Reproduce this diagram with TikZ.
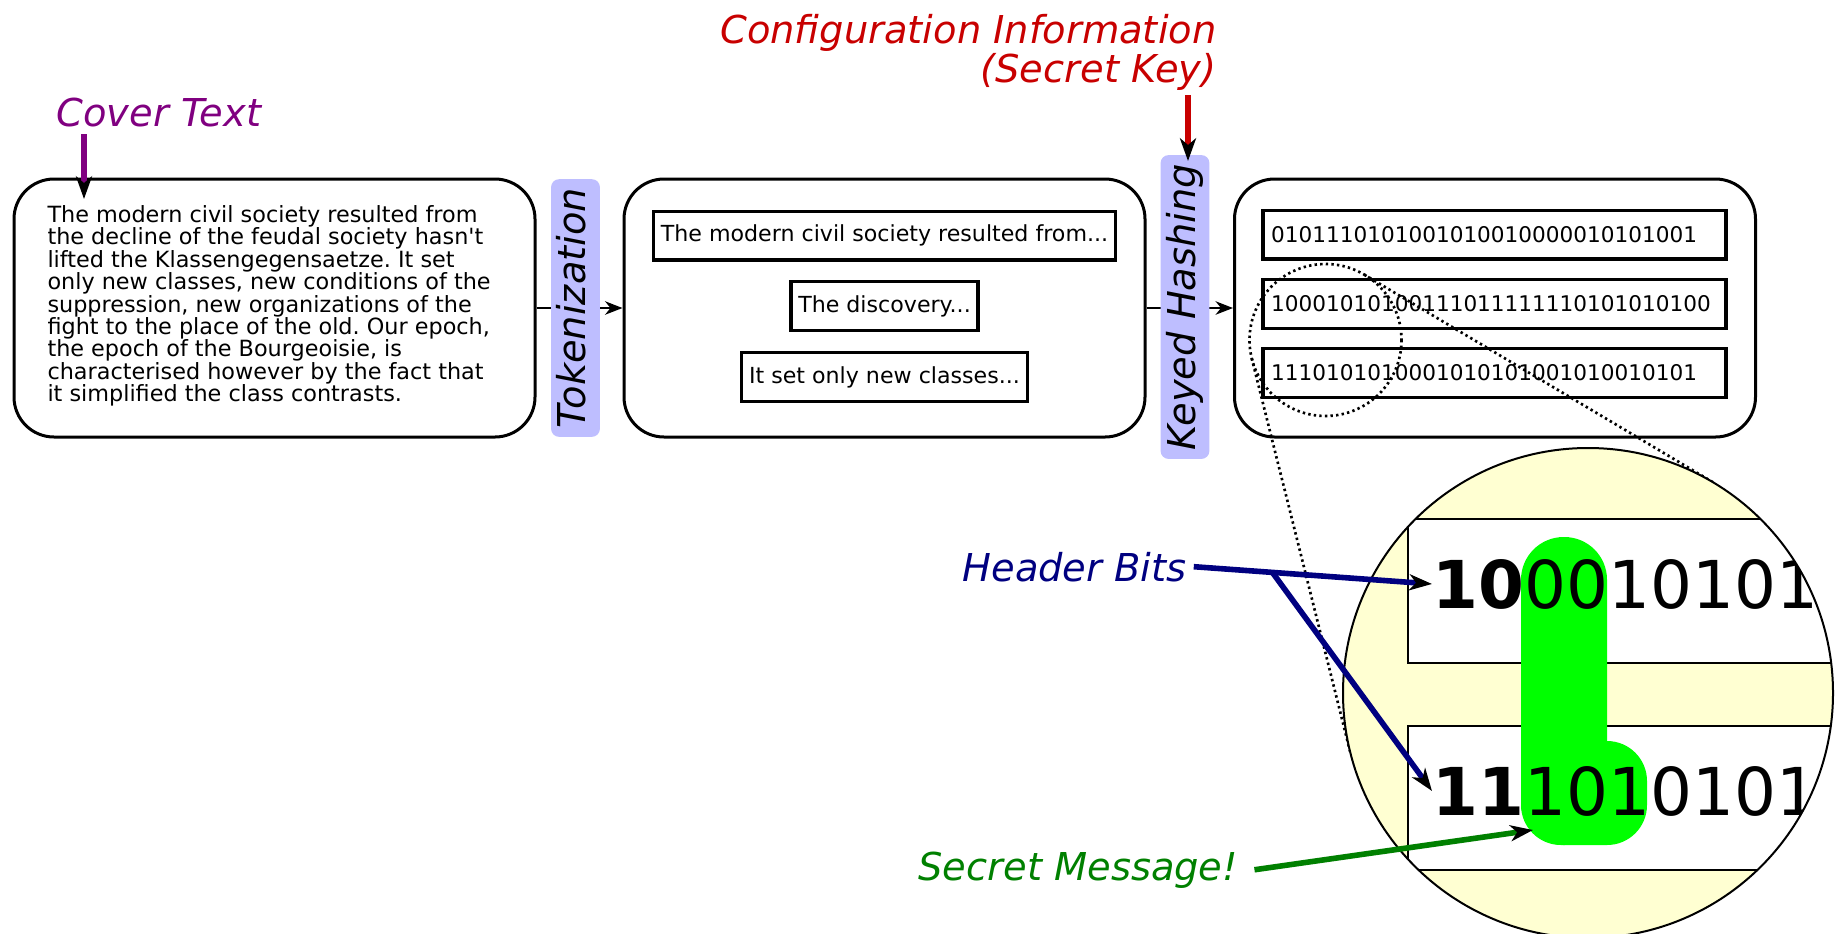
\documentclass[tikz,border=0pt]{standalone}
\usepackage{fontspec}
\setmainfont{DejaVu Sans}
\usetikzlibrary{arrows.meta,calc}
\frenchspacing

\definecolor{coverpurple}{RGB}{128,0,128}
\definecolor{keyred}{RGB}{200,0,0}
\definecolor{headernavy}{RGB}{0,0,128}
\definecolor{secretgreen}{RGB}{0,128,0}
\definecolor{steplilac}{RGB}{190,190,255}
\definecolor{lensyellow}{RGB}{255,255,210}
\definecolor{hilitegreen}{RGB}{0,255,0}

\tikzset{every picture/.style={line width=0.75pt}}
\tikzset{
	stagebox/.style={draw, line width=2.25pt, rounded corners=30pt, minimum width=390.75pt, minimum height=193.5pt},
	chunkbox/.style={draw, line width=2.6pt, inner xsep=5.6pt, minimum height=36.4pt, font=\fontsize{16.6}{16.7}\selectfont},
	bitbox/.style={chunkbox, text width=335pt, align=left, inner xsep=6pt, font=\fontsize{16.2}{16.7}\selectfont},
	steplabel/.style={fill=steplilac, rounded corners=6pt, rotate=90, inner xsep=6.5pt, inner ysep=3.8pt, text height=22pt, text depth=7pt, font=\fontsize{28.8}{28.8}\selectfont\itshape},
	notelabel/.style={inner sep=0pt, font=\fontsize{28.8}{28.8}\selectfont\itshape},
	flow/.style={line width=2pt, -{Stealth[length=13pt, width=10pt, inset=4pt]}},
	callout/.style={line width=4.2pt, -{Stealth[color=black, length=17pt, width=12pt, inset=5pt]}},
	lens/.style={line width=2pt, dash pattern=on 1.8pt off 2.4pt},
	magrow/.style={fill=white, draw, line width=1.5pt},
	magbits/.style={inner sep=0pt, font=\fontsize{49.5}{50}\selectfont}
}

\begin{document}
\begin{tikzpicture}[x=0.75pt,y=0.75pt,yscale=-1,xscale=1]
	\useasboundingbox (0,0) rectangle (1835,933);

	%Shape: Rounded Rect (cover text)
	\node[stagebox] (cover) at (274.5,308) {};
	%Shape: Rounded Rect (tokens)
	\node[stagebox] (tokens) at (884.5,308) {};
	%Shape: Rounded Rect (hashes)
	\node[stagebox] (hashes) at (1495,308) {};

	% Text Node
	\node[anchor=west, align=left, inner sep=0pt, font=\fontsize{16.75}{16.8}\selectfont] (covertext) at (47,306) {The modern civil society resulted from\\
		the decline of the feudal society hasn\textquotesingle t\\
		lifted the Klassengegensaetze. It set\\
		only new classes, new conditions of the\\
		suppression, new organizations of the\\
		fight to the place of the old. Our epoch,\\
		the epoch of the Bourgeoisie, is\\
		characterised however by the fact that\\
		it simplified the class contrasts.};

	% Text Node
	\node[chunkbox] (chunka) at (884.5,235.5) {The modern civil society resulted from...};
	% Text Node
	\node[chunkbox] (chunkb) at (884.5,306) {The discovery...};
	% Text Node
	\node[chunkbox] (chunkc) at (884.5,377) {It set only new classes...};

	% Text Node
	\node[bitbox] (bitsa) at (1494.5,234.5) {0101110101001010010000010101001};
	% Text Node
	\node[bitbox] (bitsb) at (1494.5,304) {10001010100111011111110101010100};
	% Text Node
	\node[bitbox] (bitsc) at (1494.5,373) {1110101010001010101001010010101};

	%Straight Lines
	\draw[flow] (cover.east) -- (tokens.west);
	\draw[flow] (tokens.east) -- (hashes.west);

	% Text Node
	\node[steplabel] (tokenize) at (575.5,308) {Tokenization};
	% Text Node
	\node[steplabel] (keyhash) at (1185,307) {Keyed Hashing};

	% Text Node
	\node[notelabel, text=coverpurple, anchor=base west] (covertitle) at (56,126) {Cover Text};
	% Text Node
	\node[notelabel, text=keyred, align=right, anchor=north east] (configinfo) at (1217,14) {Configuration Information\\(Secret Key)};

	\coordinate (coverfrom) at (84,134);
	\coordinate (coverto) at (84,199);
	\coordinate (keyfrom) at (1188,95);
	\coordinate (keyto) at (1188,161);
	\draw[callout, coverpurple] (coverfrom) -- (coverto);
	\draw[callout, keyred] (keyfrom) -- (keyto);

	%Shape: Circle (zoom source)
	\coordinate (zoomsrc) at (1325.5,340);
	\coordinate (zoomdst) at (1588,693);
	\draw[lens] (zoomsrc) circle (76);
	\draw[lens] ($(zoomsrc)+(-59.2:76)$) -- ($(zoomdst)+(-59.2:245)$);
	\draw[lens] ($(zoomsrc)+(166:76)$) -- ($(zoomdst)+(166:245)$);

	%Shape: Circle (magnified view)
	\begin{scope}
		\clip (zoomdst) circle (245);
		\fill[lensyellow] (zoomdst) circle (245);
		\draw[magrow] (1408,519) rectangle (1900,663);
		\draw[magrow] (1408,726) rectangle (1900,870);
		\fill[hilitegreen, rounded corners=32pt] (1521,537) rectangle (1607,845);
		\fill[hilitegreen, rounded corners=30pt] (1521,741) rectangle (1647,845);
		\node[magbits, anchor=base west] (magrowa) at (1432,608) {\textbf{10}0010101};
		\node[magbits, anchor=base west] (magrowb) at (1432,815) {\textbf{11}1010101};
	\end{scope}
	\draw[line width=1.5pt] (zoomdst) circle (245);

	% Text Node
	\node[notelabel, text=headernavy, anchor=base west] (header) at (962,581) {Header Bits};
	% Text Node
	\node[notelabel, text=secretgreen, anchor=base west] (secret) at (918,880) {Secret Message!};

	\coordinate (hbfrom) at ([xshift=5pt]header.east);
	\coordinate (hbfork) at ($(hbfrom)!0.33!(magrowa.west)$);
	\coordinate (msgtip) at (1533,830);
	\draw[callout, headernavy] (hbfrom) -- (magrowa.west);
	\draw[callout, headernavy] (hbfork) -- (magrowb.west);
	\draw[callout, secretgreen] ([xshift=12pt]secret.east) -- (msgtip);

\end{tikzpicture}
\end{document}
